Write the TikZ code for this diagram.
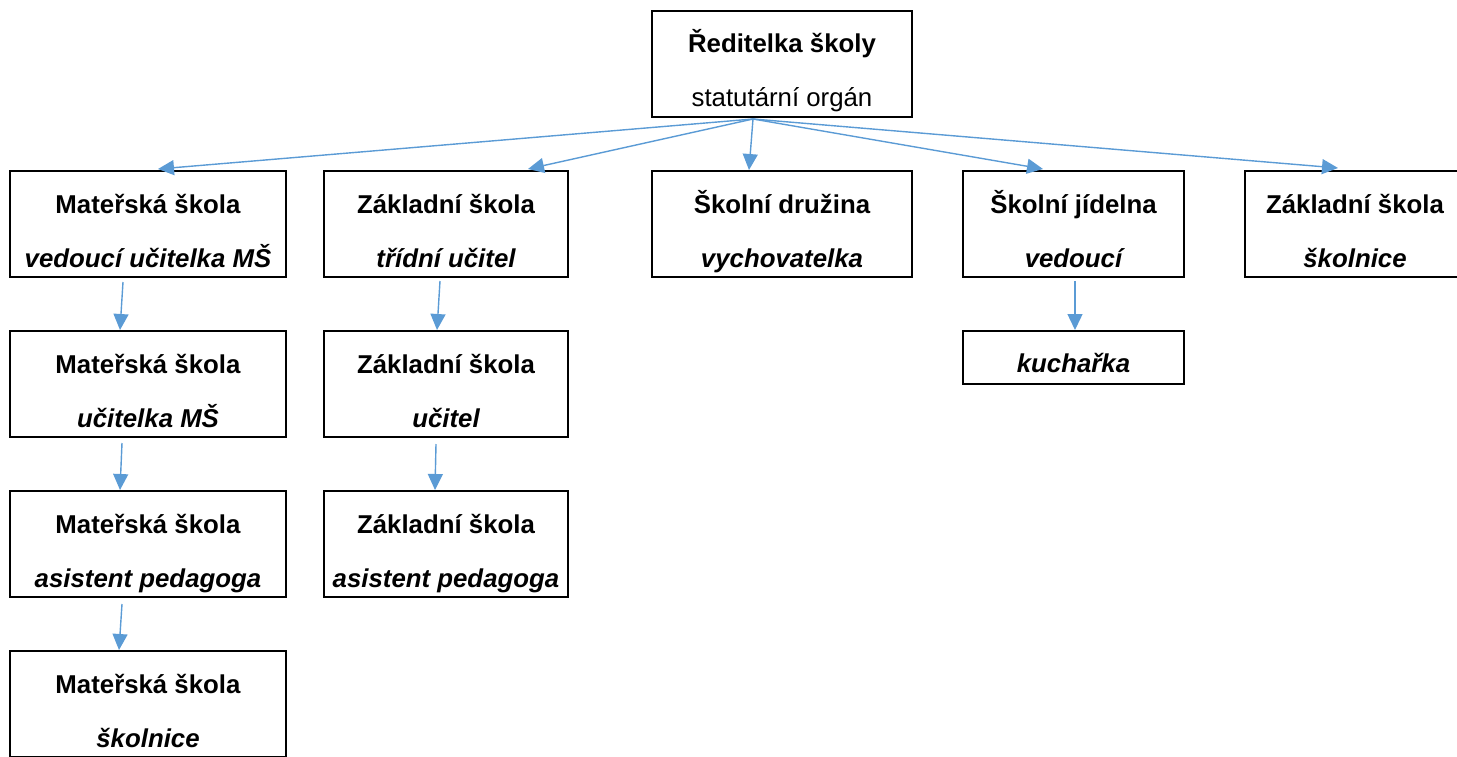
\documentclass[tikz,border=0pt]{standalone}
\usepackage{fontspec}
\setmainfont{Liberation Sans}
\usetikzlibrary{arrows.meta,calc}
\definecolor{arrowblue}{HTML}{5B9BD5}
\tikzset{
  orgbox/.style={draw=black, line width=2pt, rectangle, inner sep=0pt, minimum width=#1},
  rowbox/.style={minimum height=106pt},
  shortbox/.style={minimum height=53pt},
  txt/.style={anchor=base, inner sep=0pt, font=\fontsize{25.8}{30}\selectfont},
  head/.style={txt, font=\fontsize{25.8}{30}\selectfont\bfseries},
  role/.style={txt, font=\fontsize{25.8}{30}\selectfont\bfseries\itshape},
  link/.style={draw=arrowblue, line width=1.4pt, -{Triangle[length=16pt,width=15pt]}}
}
\begin{document}
\begin{tikzpicture}[x=1pt,y=-1pt]
\useasboundingbox (0,0) rectangle (1457,756);
\clip (0,0) rectangle (1457,756);
% top
\node[orgbox=260pt, rowbox] (top) at (782,64) {};
\node[head] (topt1) at (782,52) {Ředitelka školy};
\node[txt] (topt2) at (782,106) {statutární orgán};
% row 1
\node[orgbox=276pt, rowbox] (A1) at (148,224) {};
\node[head] at (148,213) {Mateřská škola};
\node[role] at (148,267) {vedoucí učitelka MŠ};
\node[orgbox=244pt, rowbox] (B1) at (446,224) {};
\node[head] at (446,213) {Základní škola};
\node[role] at (446,267) {třídní učitel};
\node[orgbox=260pt, rowbox] (C1) at (782,224) {};
\node[head] at (782,213) {Školní družina};
\node[role] at (782,267) {vychovatelka};
\node[orgbox=221pt, rowbox] (D1) at (1073.5,224) {};
\node[head] at (1073.5,213) {Školní jídelna};
\node[role] at (1073.5,267) {vedoucí};
\node[orgbox=220pt, rowbox] (E1) at (1355,224) {};
\node[head] at (1355,213) {Základní škola};
\node[role] at (1355,267) {školnice};
% row 2
\node[orgbox=276pt, rowbox] (A2) at (148,384) {};
\node[head] at (148,373) {Mateřská škola};
\node[role] at (148,427) {učitelka MŠ};
\node[orgbox=244pt, rowbox] (B2) at (446,384) {};
\node[head] at (446,373) {Základní škola};
\node[role] at (446,427) {učitel};
\node[orgbox=221pt, shortbox] (D2) at (1073.5,357.5) {};
\node[role] at (1073.5,372) {kuchařka};
% row 3
\node[orgbox=276pt, rowbox] (A3) at (148,544) {};
\node[head] at (148,533) {Mateřská škola};
\node[role] at (148,587) {asistent pedagoga};
\node[orgbox=244pt, rowbox] (B3) at (446,544) {};
\node[head] at (446,533) {Základní škola};
\node[role] at (446,587) {asistent pedagoga};
% row 4
\node[orgbox=276pt, rowbox] (A4) at (148,704) {};
\node[head] at (148,693) {Mateřská škola};
\node[role] at (148,747) {školnice};
% connectors
\coordinate (hub) at ($(top.south)+(-29,1)$);
\draw[link] (hub) -- ($(A1.north)+(10,-1)$);
\draw[link] (hub) -- ($(B1.north)+(82,-1)$);
\draw[link] (hub) -- ($(C1.north)+(-33,0)$);
\draw[link] (hub) -- ($(D1.north)+(-30.5,-1)$);
\draw[link] (hub) -- ($(E1.north)+(-17,-2)$);
\draw[link] ($(A1.south)+(-25,4)$) -- ($(A2.north)+(-28,0)$);
\draw[link] ($(A2.south)+(-26,5)$) -- ($(A3.north)+(-28,0)$);
\draw[link] ($(A3.south)+(-26,6)$) -- ($(A4.north)+(-29,0)$);
\draw[link] ($(B1.south)+(-6,3)$) -- ($(B2.north)+(-9,0)$);
\draw[link] ($(B2.south)+(-10,6)$) -- ($(B3.north)+(-11,0)$);
\draw[link] ($(D1.south)+(1.5,3)$) -- ($(D2.north)+(1.5,0)$);
\end{tikzpicture}
\end{document}
